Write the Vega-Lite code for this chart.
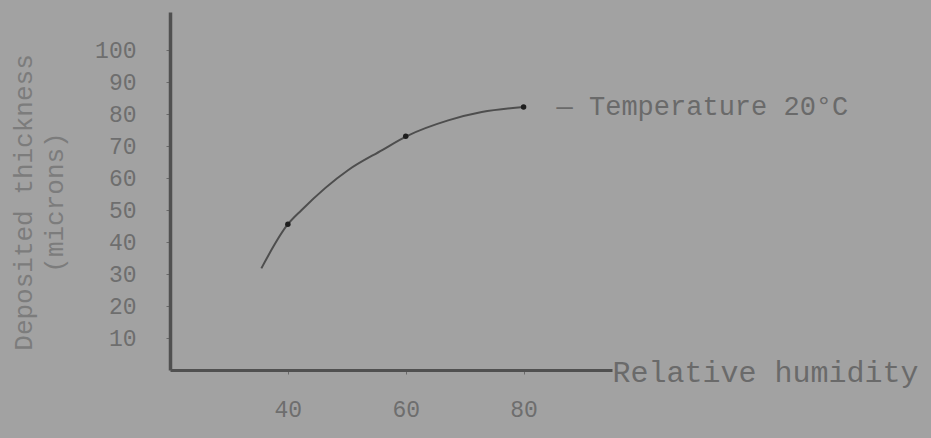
{
  "$schema": "https://vega.github.io/schema/vega-lite/v6.json",
  "width": 442,
  "height": 358,
  "autosize": {"type": "none"},
  "padding": {"left": 170, "top": 12, "right": 319, "bottom": 68},
  "background": "#a2a2a2",
  "config": {
    "view": {"stroke": null},
    "font": "Liberation Mono",
    "axis": {
      "domainColor": "#505050",
      "tickColor": "#6a6a6a",
      "labelColor": "#6e6e6e",
      "titleColor": "#7a7a7a",
      "labelFont": "Liberation Mono",
      "titleFont": "Liberation Mono",
      "titleFontWeight": "normal",
      "grid": false
    }
  },
  "datasets": {
    "curve": [
      {"hum": 35.5, "thick": 31.8},
      {"hum": 40.0, "thick": 45.6},
      {"hum": 42.3, "thick": 50.0},
      {"hum": 50.2, "thick": 62.5},
      {"hum": 56.0, "thick": 68.8},
      {"hum": 60.1, "thick": 73.1},
      {"hum": 67.2, "thick": 78.1},
      {"hum": 72.9, "thick": 80.7},
      {"hum": 80.0, "thick": 82.3}
    ],
    "points": [
      {"hum": 40, "thick": 45.6},
      {"hum": 60, "thick": 73.1},
      {"hum": 80, "thick": 82.3}
    ],
    "label": [
      {"hum": 80, "thick": 82.3, "text": "— Temperature 20°C"}
    ]
  },
  "encoding": {
    "x": {
      "field": "hum", "type": "quantitative",
      "scale": {"domain": [20, 95], "nice": false, "zero": false},
      "axis": {
        "values": [40, 60, 80],
        "title": "Relative humidity",
        "titleFontSize": 30,
        "titleAnchor": "start",
        "titleAlign": "left",
        "titleBaseline": "middle",
        "titleX": 442,
        "titleY": 2,
        "titleColor": "#6a6a6a",
        "domainWidth": 3,
        "tickSize": 4,
        "tickWidth": 1,
        "labelFontSize": 23,
        "labelPadding": 24,
        "labelOverlap": false
      }
    },
    "y": {
      "field": "thick", "type": "quantitative",
      "scale": {"domain": [0, 112], "nice": false},
      "axis": {
        "values": [10, 20, 30, 40, 50, 60, 70, 80, 90, 100],
        "title": ["Deposited thickness", "(microns)"],
        "titleFontSize": 26,
        "titleAngle": 270,
        "titleAlign": "center",
        "titleBaseline": "top",
        "titleLineHeight": 31,
        "titleX": -160,
        "titleY": 190,
        "titleColor": "#7c7c7c",
        "domainWidth": 3.5,
        "tickSize": 4,
        "tickWidth": 1,
        "labelFontSize": 23,
        "labelPadding": 30,
        "labelOverlap": false,
        "labelBound": false
      }
    }
  },
  "layer": [
    {
      "data": {"name": "curve"},
      "mark": {"type": "line", "interpolate": "monotone", "color": "#4e4e4e", "strokeWidth": 2}
    },
    {
      "data": {"name": "points"},
      "mark": {"type": "point", "filled": true, "color": "#1e1e1e", "size": 30, "opacity": 1}
    },
    {
      "data": {"name": "label"},
      "mark": {"type": "text", "align": "left", "baseline": "middle", "dx": 33, "fontSize": 27, "font": "Liberation Mono", "color": "#6a6a6a"},
      "encoding": {
        "text": {"field": "text"}
      }
    }
  ]
}
